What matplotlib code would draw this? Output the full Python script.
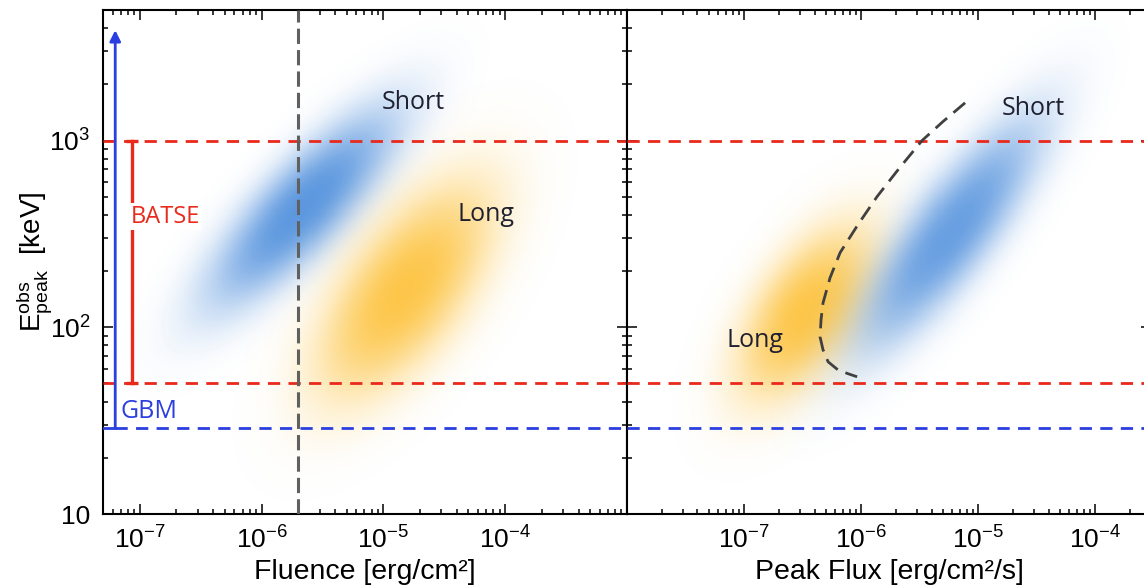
import numpy as np
import matplotlib
matplotlib.use("Agg")
import matplotlib.pyplot as plt
from matplotlib.colors import ListedColormap

plt.rcParams["font.family"] = ["Liberation Sans", "DejaVu Sans"]
plt.rcParams["mathtext.fontset"] = "custom"
plt.rcParams["mathtext.rm"] = "Liberation Sans"
plt.rcParams["mathtext.it"] = "Liberation Sans:italic"

# ---------------------------------------------------------------------------
# data
# ---------------------------------------------------------------------------
batse_range = [50, 1000]          # keV
gbm_low = 29                      # keV
gbm_arrow_top = 3900
batse_x = 8.6e-8
gbm_x = 6.3e-8
fluence_cut = 2.0e-6

# blobs: (log10 x centre, log10 E centre, angle deg in log space, sigma major, sigma minor)
left_short = (-5.66, 2.64, 32, 0.68, 0.20)
left_long = (-4.82, 2.20, 35, 0.63, 0.29)
right_long = (-6.47, 2.08, 34, 0.50, 0.25)
right_short = (-5.24, 2.50, 37, 0.72, 0.21)

# dashed curve in the peak flux panel
curve_flux = [7.74e-6, 5.02e-6, 3.32e-6, 2.11e-6, 1.37e-6, 9.42e-7, 6.62e-7,
              5.43e-7, 4.73e-7, 4.55e-7, 4.46e-7, 4.73e-7, 5.23e-7, 6.35e-7,
              7.74e-7, 9.25e-7]
curve_ep = [1592, 1265, 1000, 708, 501, 355, 251, 184, 135, 110, 88.9, 75.7,
            65.3, 59.1, 56.4, 54.3]

xticks = [1e-7, 1e-6, 1e-5, 1e-4]
xtick_labels = [r"$10^{-7}$", r"$10^{-6}$", r"$10^{-5}$", r"$10^{-4}$"]
yticks = [10, 100, 1000]
ytick_labels = ["10", r"$10^2$", r"$10^3$"]

RED = "#e8291c"
BLUE = "#2b3fe0"
SBLUE = "#4f8fdc"
GOLD = "#fdc23c"
TXT = "#1f2030"


def blob(ax, x0, y0, ang, s1, s2, xlim, ylim, color, peak):
    gx = np.linspace(np.log10(xlim[0]), np.log10(xlim[1]), 520)
    gy = np.linspace(np.log10(ylim[0]), np.log10(ylim[1]), 500)
    X, Y = np.meshgrid(gx, gy)
    t = np.radians(ang)
    a = (X - x0) * np.cos(t) + (Y - y0) * np.sin(t)
    b = -(X - x0) * np.sin(t) + (Y - y0) * np.cos(t)
    r2 = (a / s1) ** 2 + (b / s2) ** 2
    z = np.exp(-0.5 * r2 ** 1.25)
    rgb = matplotlib.colors.to_rgb(color)
    cols = np.zeros((256, 4))
    cols[:, :3] = rgb
    cols[:, 3] = np.linspace(0, peak, 256)
    ax.pcolormesh(10 ** X, 10 ** Y, z, cmap=ListedColormap(cols), vmin=0, vmax=1,
                  shading="nearest", zorder=1, rasterized=True, edgecolors="none",
                  antialiased=False)


def style(ax):
    ax.set_xscale("log")
    ax.set_yscale("log")
    ax.tick_params(which="both", direction="in", top=True, right=True, width=1.1,
                   labelsize=19, pad=9)
    ax.tick_params(which="major", length=7)
    ax.tick_params(which="minor", length=3.5)
    for s in ax.spines.values():
        s.set_linewidth(1.5)
    ax.set_xticks(xticks, xtick_labels)


fig = plt.figure(figsize=(11.44, 5.88), dpi=100)
W, H = 1144, 588
ax1 = fig.add_axes([103 / W, 1 - 514 / H, 524 / W, 504 / H])
ax2 = fig.add_axes([627 / W, 1 - 514 / H, 524 / W, 504 / H])

ylim = (10, 5000)
xlim1 = (5e-8, 1e-3)
xlim2 = (1e-8, 3e-4)

# ---- left: fluence ----
style(ax1)
ax1.set_xlim(*xlim1)
ax1.set_ylim(*ylim)
blob(ax1, *left_short, xlim1, ylim, SBLUE, 0.92)
blob(ax1, *left_long, xlim1, ylim, GOLD, 0.92)

dash = (0, (4.4, 3))
for e in batse_range:
    ax1.axhline(e, color=RED, lw=2, ls=dash, zorder=3)
ax1.plot([xlim1[0], gbm_x], [gbm_low, gbm_low], color=BLUE, lw=2, zorder=3)
ax1.plot([gbm_x, xlim1[1]], [gbm_low, gbm_low], color=BLUE, lw=2, ls=dash, zorder=3)
ax1.axvline(fluence_cut, color="#606060", lw=2.2, ls=(0, (5, 2)), zorder=3)
ax1.annotate("", xy=(gbm_x, gbm_arrow_top), xytext=(gbm_x, gbm_low),
             arrowprops=dict(arrowstyle="-|>", color=BLUE, lw=2, mutation_scale=16,
                             shrinkA=0, shrinkB=0), zorder=4)
ax1.plot([batse_x, batse_x], batse_range, color=RED, lw=2.4, marker="_", ms=9,
         mew=2.4, zorder=4)
ax1.text(8.4e-8, 391, "BATSE", color=RED, fontsize=17, family="Open Sans",
         ha="left", va="center", zorder=5,
         bbox=dict(facecolor="white", edgecolor="none", pad=1))
ax1.text(7.0e-8, 35.3, "GBM", color=BLUE, fontsize=18, family="Open Sans",
         ha="left", va="center", zorder=5)
ax1.text(1.77e-5, 1600, "Short", color=TXT, fontsize=18, family="Open Sans",
         ha="center", va="center", zorder=5)
ax1.text(6.9e-5, 401, "Long", color=TXT, fontsize=18, family="Open Sans",
         ha="center", va="center", zorder=5)

ax1.set_yticks(yticks, ytick_labels)
ax1.set_xlabel("Fluence [erg/cm²]", fontsize=20.5, labelpad=4)
ax1.set_ylabel(r"$\mathrm{E}_{\mathrm{peak}}^{\mathrm{obs}}$  [keV]", fontsize=20,
               labelpad=-3)

# ---- right: peak flux ----
style(ax2)
ax2.set_xlim(*xlim2)
ax2.set_ylim(*ylim)
blob(ax2, *right_long, xlim2, ylim, GOLD, 0.92)
blob(ax2, *right_short, xlim2, ylim, SBLUE, 0.85)
for e in batse_range:
    ax2.axhline(e, color=RED, lw=2, ls=dash, zorder=3)
ax2.axhline(gbm_low, color=BLUE, lw=2, ls=dash, zorder=3)
ax2.plot(curve_flux, curve_ep, color="#404040", lw=2, ls=(0, (5.5, 3)), zorder=4)
ax2.text(2.95e-5, 1486, "Short", color=TXT, fontsize=18, family="Open Sans",
         ha="center", va="center", zorder=5)
ax2.text(1.24e-7, 84.7, "Long", color=TXT, fontsize=18, family="Open Sans",
         ha="center", va="center", zorder=5)
ax2.set_yticks(yticks, ["", "", ""])
ax2.set_xlabel("Peak Flux [erg/cm²/s]", fontsize=20.5, labelpad=4)

fig.savefig("out.png", dpi=100)
